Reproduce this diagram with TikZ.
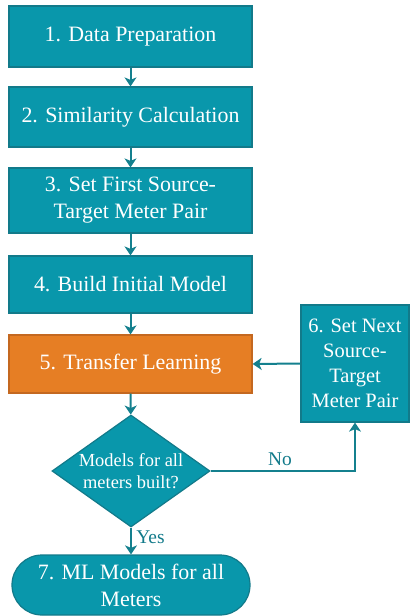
\documentclass[tikz,border=0pt]{standalone}
\usepackage{fontspec}
\setmainfont{Liberation Serif}
\usetikzlibrary{shapes.geometric,shapes.misc,arrows.meta}
\definecolor{tealfill}{RGB}{9,151,171}
\definecolor{tealline}{RGB}{18,122,138}
\definecolor{orfill}{RGB}{230,126,36}
\definecolor{orline}{RGB}{196,104,32}
\definecolor{arrowc}{RGB}{20,128,142}
\begin{document}
\begin{tikzpicture}[x=1bp,y=-1bp,
  stepbox/.style={draw=tealline,fill=tealfill,line width=1.2bp,text=white,
    font=\fontsize{22}{27}\selectfont,align=center,inner sep=0pt},
  conn/.style={draw=arrowc,line width=2bp,-{Stealth[length=9bp,width=12bp,inset=2.5bp]}},
  lbl/.style={text=tealline,font=\fontsize{19.5}{22}\selectfont}]
\useasboundingbox (0,0) rectangle (410,616);
\node[stepbox,minimum width=243bp,minimum height=61bp] (s1) at (130.5,36.5) {1. Data Preparation};
\node[stepbox,minimum width=243bp,minimum height=60bp] (s2) at (130.5,117) {2. Similarity Calculation};
\node[stepbox,minimum width=243bp,minimum height=65bp] (s3) at (130.5,200.5) {3. Set First Source-\\Target Meter Pair};
\node[stepbox,minimum width=243bp,minimum height=57bp] (s4) at (130.5,284.5) {4. Build Initial Model};
\node[stepbox,draw=orline,fill=orfill,minimum width=243bp,minimum height=58bp] (s5) at (130.5,364) {5. Transfer Learning};
\node[stepbox,minimum width=108bp,minimum height=117bp,font=\fontsize{20.5}{25}\selectfont] (s6) at (355,363.5) {6. Set Next\\Source-\\Target\\Meter Pair};
\node[stepbox,diamond,minimum width=158bp,minimum height=112bp,aspect=1.41,font=\fontsize{18.5}{22}\selectfont] (d) at (131,471) {Models for all\\meters built?};
\node[stepbox,rounded rectangle,minimum width=238bp,minimum height=60bp] (s7) at (131,585) {7. ML Models for all\\Meters};
\draw[conn] (s1) -- (s2);
\draw[conn] (s2) -- (s3);
\draw[conn] (s3) -- (s4);
\draw[conn] (s4) -- (s5);
\draw[conn] (s5) -- (d);
\draw[conn] (s6.west) -- (s5.east);
\draw[conn] (d.east) -| node[lbl,pos=0.24,above=1bp] {No} (s6.south);
\draw[conn] (d.south) -- node[lbl,right=1bp,pos=0.35] {Yes} (s7.north);
\end{tikzpicture}
\end{document}
